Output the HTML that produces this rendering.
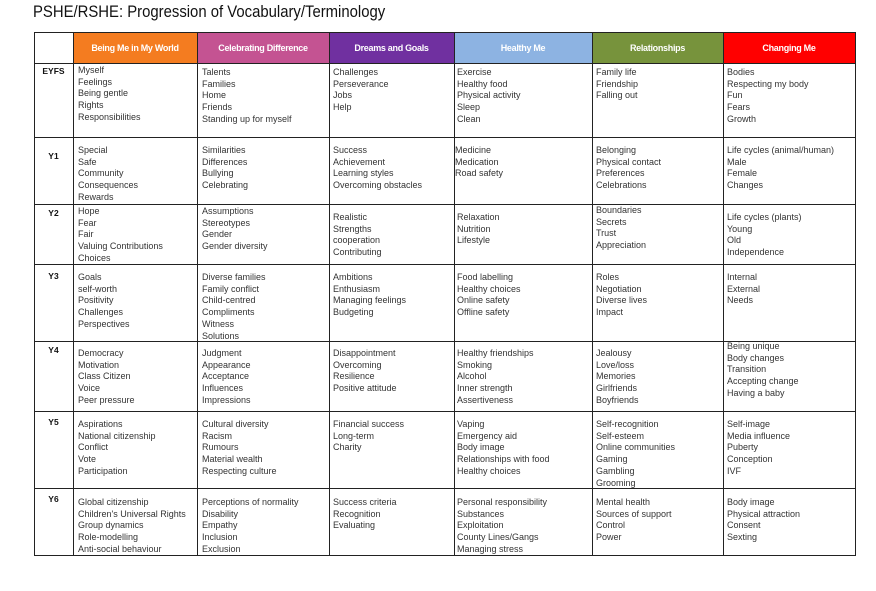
<!DOCTYPE html>
<html><head><meta charset="utf-8"><style>
body{margin:0;width:876px;height:591px;background:#fff;position:relative;font-family:"Liberation Sans",sans-serif;overflow:hidden}
h1{position:absolute;left:33px;top:0;margin:0;font-size:17px;font-weight:normal;color:#111;line-height:24px;transform:scaleX(0.875);transform-origin:0 0;white-space:nowrap}
.h{position:absolute;top:33px;height:30px;color:#fff;font-size:9px;font-weight:bold;text-align:center;line-height:30px;letter-spacing:-0.3px}
.l{position:absolute;background:#222}
.c{position:absolute;font-size:9px;line-height:11.7px;color:#333;white-space:nowrap;margin-top:1px}
.r{position:absolute;left:34px;width:39px;text-align:center;font-size:8.5px;font-weight:bold;color:#111}
</style></head><body>
<h1>PSHE/RSHE: Progression of Vocabulary/Terminology</h1>
<div class="h" style="left:73px;width:124px;background:#f47c20">Being Me in My World</div>
<div class="h" style="left:197px;width:132px;background:#c45392">Celebrating Difference</div>
<div class="h" style="left:329px;width:125px;background:#7030a0">Dreams and Goals</div>
<div class="h" style="left:454px;width:138px;background:#8db3e2">Healthy Me</div>
<div class="h" style="left:592px;width:131px;background:#77933c">Relationships</div>
<div class="h" style="left:723px;width:132px;background:#ff0000">Changing Me</div>
<div class="l" style="left:34px;width:821px;top:32px;height:1px"></div>
<div class="l" style="left:34px;width:821px;top:63px;height:1px"></div>
<div class="l" style="left:34px;width:821px;top:137px;height:1px"></div>
<div class="l" style="left:34px;width:821px;top:204px;height:1px"></div>
<div class="l" style="left:34px;width:821px;top:264px;height:1px"></div>
<div class="l" style="left:34px;width:821px;top:341px;height:1px"></div>
<div class="l" style="left:34px;width:821px;top:411px;height:1px"></div>
<div class="l" style="left:34px;width:821px;top:488px;height:1px"></div>
<div class="l" style="left:34px;width:821px;top:555px;height:1px"></div>
<div class="l" style="left:34px;top:32px;width:1px;height:524px"></div>
<div class="l" style="left:73px;top:32px;width:1px;height:524px"></div>
<div class="l" style="left:197px;top:32px;width:1px;height:524px"></div>
<div class="l" style="left:329px;top:32px;width:1px;height:524px"></div>
<div class="l" style="left:454px;top:32px;width:1px;height:524px"></div>
<div class="l" style="left:592px;top:32px;width:1px;height:524px"></div>
<div class="l" style="left:723px;top:32px;width:1px;height:524px"></div>
<div class="l" style="left:855px;top:32px;width:1px;height:524px"></div>

<div class="r" style="top:66px">EYFS</div>
<div class="r" style="top:151px">Y1</div>
<div class="r" style="top:208px">Y2</div>
<div class="r" style="top:271px">Y3</div>
<div class="r" style="top:345px">Y4</div>
<div class="r" style="top:417px">Y5</div>
<div class="r" style="top:494px">Y6</div>

<div class="c" style="left:78px;top:64px">Myself<br>Feelings<br>Being gentle<br>Rights<br>Responsibilities</div>
<div class="c" style="left:202px;top:66px">Talents<br>Families<br>Home<br>Friends<br>Standing up for myself</div>
<div class="c" style="left:333px;top:66px">Challenges<br>Perseverance<br>Jobs<br>Help</div>
<div class="c" style="left:457px;top:66px">Exercise<br>Healthy food<br>Physical activity<br>Sleep<br>Clean</div>
<div class="c" style="left:596px;top:66px">Family life<br>Friendship<br>Falling out</div>
<div class="c" style="left:727px;top:66px">Bodies<br>Respecting my body<br>Fun<br>Fears<br>Growth</div>
<div class="c" style="left:78px;top:144px">Special<br>Safe<br>Community<br>Consequences<br>Rewards</div>
<div class="c" style="left:202px;top:144px">Similarities<br>Differences<br>Bullying<br>Celebrating</div>
<div class="c" style="left:333px;top:144px">Success<br>Achievement<br>Learning styles<br>Overcoming obstacles</div>
<div class="c" style="left:455px;top:144px">Medicine<br>Medication<br>Road safety</div>
<div class="c" style="left:596px;top:144px">Belonging<br>Physical contact<br>Preferences<br>Celebrations</div>
<div class="c" style="left:727px;top:144px">Life cycles (animal/human)<br>Male<br>Female<br>Changes</div>
<div class="c" style="left:78px;top:205px">Hope<br>Fear<br>Fair<br>Valuing Contributions<br>Choices</div>
<div class="c" style="left:202px;top:205px">Assumptions<br>Stereotypes<br>Gender<br>Gender diversity</div>
<div class="c" style="left:333px;top:211px">Realistic<br>Strengths<br>cooperation<br>Contributing</div>
<div class="c" style="left:457px;top:211px">Relaxation<br>Nutrition<br>Lifestyle</div>
<div class="c" style="left:596px;top:204px">Boundaries<br>Secrets<br>Trust<br>Appreciation</div>
<div class="c" style="left:727px;top:211px">Life cycles (plants)<br>Young<br>Old<br>Independence</div>
<div class="c" style="left:78px;top:271px">Goals<br>self-worth<br>Positivity<br>Challenges<br>Perspectives</div>
<div class="c" style="left:202px;top:271px">Diverse families<br>Family conflict<br>Child-centred<br>Compliments<br>Witness<br>Solutions</div>
<div class="c" style="left:333px;top:271px">Ambitions<br>Enthusiasm<br>Managing feelings<br>Budgeting</div>
<div class="c" style="left:457px;top:271px">Food labelling<br>Healthy choices<br>Online safety<br>Offline safety</div>
<div class="c" style="left:596px;top:271px">Roles<br>Negotiation<br>Diverse lives<br>Impact</div>
<div class="c" style="left:727px;top:271px">Internal<br>External<br>Needs</div>
<div class="c" style="left:78px;top:347px">Democracy<br>Motivation<br>Class Citizen<br>Voice<br>Peer pressure</div>
<div class="c" style="left:202px;top:347px">Judgment<br>Appearance<br>Acceptance<br>Influences<br>Impressions</div>
<div class="c" style="left:333px;top:347px">Disappointment<br>Overcoming<br>Resilience<br>Positive attitude</div>
<div class="c" style="left:457px;top:347px">Healthy friendships<br>Smoking<br>Alcohol<br>Inner strength<br>Assertiveness</div>
<div class="c" style="left:596px;top:347px">Jealousy<br>Love/loss<br>Memories<br>Girlfriends<br>Boyfriends</div>
<div class="c" style="left:727px;top:340px">Being unique<br>Body changes<br>Transition<br>Accepting change<br>Having a baby</div>
<div class="c" style="left:78px;top:418px">Aspirations<br>National citizenship<br>Conflict<br>Vote<br>Participation</div>
<div class="c" style="left:202px;top:418px">Cultural diversity<br>Racism<br>Rumours<br>Material wealth<br>Respecting culture</div>
<div class="c" style="left:333px;top:418px">Financial success<br>Long-term<br>Charity</div>
<div class="c" style="left:457px;top:418px">Vaping<br>Emergency aid<br>Body image<br>Relationships with food<br>Healthy choices</div>
<div class="c" style="left:596px;top:418px">Self-recognition<br>Self-esteem<br>Online communities<br>Gaming<br>Gambling<br>Grooming</div>
<div class="c" style="left:727px;top:418px">Self-image<br>Media influence<br>Puberty<br>Conception<br>IVF</div>
<div class="c" style="left:78px;top:496px">Global citizenship<br>Children's Universal Rights<br>Group dynamics<br>Role-modelling<br>Anti-social behaviour</div>
<div class="c" style="left:202px;top:496px">Perceptions of normality<br>Disability<br>Empathy<br>Inclusion<br>Exclusion</div>
<div class="c" style="left:333px;top:496px">Success criteria<br>Recognition<br>Evaluating</div>
<div class="c" style="left:457px;top:496px">Personal responsibility<br>Substances<br>Exploitation<br>County Lines/Gangs<br>Managing stress</div>
<div class="c" style="left:596px;top:496px">Mental health<br>Sources of support<br>Control<br>Power</div>
<div class="c" style="left:727px;top:496px">Body image<br>Physical attraction<br>Consent<br>Sexting</div>
</body></html>
